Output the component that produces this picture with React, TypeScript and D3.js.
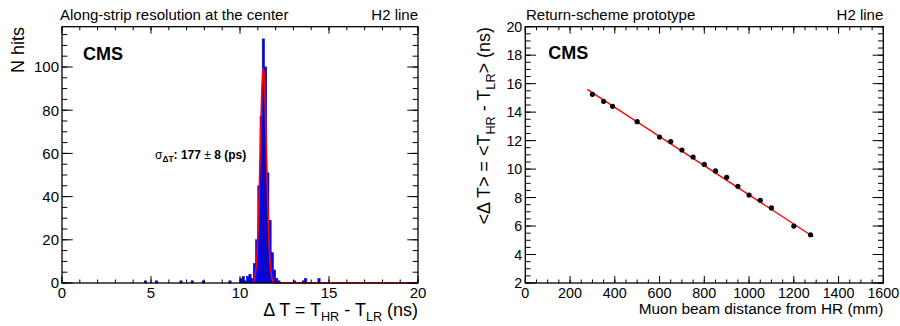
import * as d3 from "d3";
import { useEffect, useRef } from "react";

const FONT = "'Liberation Sans', Arial, Helvetica, sans-serif";

// Left panel: along-strip delta-T histogram (bin lower edges in ns, counts)
const binWidth = 0.125;
const histLow = [
  4.625, 5.25, 6.625, 7.25, 7.875, 9.375, 10.0, 10.125, 10.25, 10.375, 10.5,
  10.625, 10.75, 10.875, 11.0, 11.125, 11.25, 11.375, 11.5, 11.625, 11.75,
  11.875, 12.0, 12.125, 13.0, 13.5, 13.625, 14.375,
];
const histCounts = [
  1, 1, 1, 1, 1, 1, 2, 3, 1, 3, 4, 2, 9, 20, 45, 77, 113, 100, 51, 29, 14, 6,
  2, 1, 1, 1, 2, 2,
];
// gaussian fit parameters
const gausAmp = 99;
const gausMean = 11.31;
const gausSigma = 0.177;
const gausRange: [number, number] = [10.75, 20];

// Right panel: mean delta-T vs beam position
const distance = [
  300, 350, 390, 500, 600, 650, 700, 750, 800, 850, 900, 950, 1000, 1050, 1100,
  1200, 1275,
];
const meanDt = [
  15.25, 14.76, 14.41, 13.33, 12.25, 11.93, 11.34, 10.85, 10.33, 9.87, 9.42,
  8.79, 8.18, 7.81, 7.27, 6.0, 5.39,
];
// linear fit
const fitP0 = 18.44;
const fitP1 = -0.01025;
const fitRange: [number, number] = [277, 1287];

type G = d3.Selection<SVGGElement, unknown, null, undefined>;
type Lin = d3.ScaleLinear<number, number>;

// ROOT-like frame: ticks inside on all four sides
function frame(
  g: G,
  x: Lin,
  y: Lin,
  o: {
    xMajor: number[];
    xMinor: number[];
    yMajor: number[];
    yMinor: number[];
    labelSize: number;
  },
) {
  const [x0, x1] = x.range();
  const [y0, y1] = y.range();
  const line = (a: number, b: number, c: number, d: number) =>
    g
      .append("line")
      .attr("x1", a)
      .attr("y1", b)
      .attr("x2", c)
      .attr("y2", d)
      .attr("stroke", "#000")
      .attr("stroke-width", 1);

  for (const v of o.xMinor) {
    line(x(v), y0, x(v), y0 - 3.5);
    line(x(v), y1, x(v), y1 + 3.5);
  }
  for (const v of o.xMajor) {
    line(x(v), y0, x(v), y0 - 7);
    line(x(v), y1, x(v), y1 + 7);
  }
  for (const v of o.yMinor) {
    line(x0, y(v), x0 + 5.3, y(v));
    line(x1, y(v), x1 - 5.3, y(v));
  }
  for (const v of o.yMajor) {
    line(x0, y(v), x0 + 10.7, y(v));
    line(x1, y(v), x1 - 10.7, y(v));
  }
  g.append("rect")
    .attr("x", x0)
    .attr("y", y1)
    .attr("width", x1 - x0)
    .attr("height", y0 - y1)
    .attr("fill", "none")
    .attr("stroke", "#000")
    .attr("stroke-width", 1.3);

  g.append("g")
    .selectAll("text")
    .data(o.xMajor)
    .join("text")
    .attr("x", (d) => x(d))
    .attr("y", y0 + 15)
    .attr("text-anchor", "middle")
    .attr("font-size", o.labelSize)
    .text((d) => String(d));
  g.append("g")
    .selectAll("text")
    .data(o.yMajor)
    .join("text")
    .attr("x", x0 - 3)
    .attr("y", (d) => y(d))
    .attr("dy", "0.36em")
    .attr("text-anchor", "end")
    .attr("font-size", o.labelSize)
    .text((d) => String(d));
}

// text with subscripts: parts are [string, isSubscript]
function subText(
  t: d3.Selection<SVGTextElement, unknown, null, undefined>,
  parts: Array<[string, boolean]>,
  size: number,
) {
  const off = size * 0.28;
  let inSub = false;
  for (const [s, sub] of parts) {
    const dy = sub && !inSub ? off : !sub && inSub ? -off : 0;
    t.append("tspan")
      .attr("dy", dy)
      .attr("font-size", sub ? size * 0.7 : size)
      .text(s);
    inSub = sub;
  }
}

function drawHistogram(g: G) {
  const x = d3.scaleLinear().domain([0, 20]).range([62, 418]);
  const y = d3.scaleLinear().domain([0, 118.65]).range([283, 26.7]);

  g.append("g")
    .selectAll("rect")
    .data(histLow)
    .join("rect")
    .attr("x", (d) => x(d))
    .attr("y", (_, i) => y(histCounts[i]))
    .attr("width", (d) => x(d + binWidth) - x(d))
    .attr("height", (_, i) => y(0) - y(histCounts[i]))
    .attr("fill", "#0000ff")
    .attr("stroke", "#0000b4")
    .attr("stroke-width", 0.6);

  const xs = d3.range(gausRange[0], gausRange[1] + 0.001, 0.01);
  const gaus = (v: number) =>
    gausAmp * Math.exp(-0.5 * ((v - gausMean) / gausSigma) ** 2);
  g.append("path")
    .datum(xs)
    .attr(
      "d",
      d3
        .line<number>()
        .x((d) => x(d))
        .y((d) => y(gaus(d))),
    )
    .attr("fill", "none")
    .attr("stroke", "#ff0000")
    .attr("stroke-width", 1.6);

  frame(g, x, y, {
    xMajor: d3.range(0, 21, 5),
    xMinor: d3.range(0, 21, 1),
    yMajor: d3.range(0, 101, 20),
    yMinor: d3.range(0, 116, 5),
    labelSize: 15,
  });

  g.append("text")
    .attr("x", 60)
    .attr("y", 19.5)
    .attr("font-size", 15)
    .text("Along-strip resolution at the center");
  g.append("text")
    .attr("x", 418)
    .attr("y", 19.5)
    .attr("text-anchor", "end")
    .attr("font-size", 15)
    .text("H2 line");
  g.append("text")
    .attr("x", 83)
    .attr("y", 60)
    .attr("font-size", 18)
    .attr("font-weight", "bold")
    .text("CMS");

  const sig = g
    .append("text")
    .attr("x", 155)
    .attr("y", 158.5)
    .attr("font-size", 12)
    .attr("font-weight", "bold");
  sig.append("tspan").attr("font-weight", "normal").text("σ");
  sig.append("tspan").attr("dy", 3).attr("font-size", 8.4).text("ΔT");
  sig.append("tspan").attr("dy", -3).text(": 177 ");
  sig.append("tspan").attr("font-weight", "normal").text("±");
  sig.append("tspan").text(" 8 (ps)");

  g.append("text")
    .attr("transform", "translate(24,27) rotate(-90)")
    .attr("text-anchor", "end")
    .attr("font-size", 18)
    .text("N hits");

  const xt = g
    .append("text")
    .attr("x", 418)
    .attr("y", 316)
    .attr("text-anchor", "end")
    .attr("font-size", 18);
  subText(
    xt,
    [
      ["Δ T = T", false],
      ["HR", true],
      [" - T", false],
      ["LR", true],
      [" (ns)", false],
    ],
    18,
  );
}

function drawScan(g: G) {
  const x = d3.scaleLinear().domain([0, 1600]).range([525.3, 883.3]);
  const y = d3.scaleLinear().domain([2, 20]).range([283, 26.7]);

  frame(g, x, y, {
    xMajor: d3.range(0, 1601, 200),
    xMinor: d3.range(0, 1601, 50),
    yMajor: d3.range(2, 21, 2),
    yMinor: d3.range(2, 20.01, 0.5),
    labelSize: 14.3,
  });

  g.append("line")
    .attr("x1", x(fitRange[0]))
    .attr("y1", y(fitP0 + fitP1 * fitRange[0]))
    .attr("x2", x(fitRange[1]))
    .attr("y2", y(fitP0 + fitP1 * fitRange[1]))
    .attr("stroke", "#ff0000")
    .attr("stroke-width", 1.3);

  g.append("g")
    .selectAll("circle")
    .data(distance)
    .join("circle")
    .attr("cx", (d) => x(d))
    .attr("cy", (_, i) => y(meanDt[i]))
    .attr("r", 2.6)
    .attr("fill", "#000");

  g.append("text")
    .attr("x", 526)
    .attr("y", 19.5)
    .attr("font-size", 15)
    .text("Return-scheme prototype");
  g.append("text")
    .attr("x", 883.3)
    .attr("y", 19.5)
    .attr("text-anchor", "end")
    .attr("font-size", 15)
    .text("H2 line");
  g.append("text")
    .attr("x", 548.3)
    .attr("y", 59)
    .attr("font-size", 18)
    .attr("font-weight", "bold")
    .text("CMS");

  g.append("text")
    .attr("x", 883.3)
    .attr("y", 314)
    .attr("text-anchor", "end")
    .attr("font-size", 15.4)
    .text("Muon beam distance from HR (mm)");

  const yt = g
    .append("text")
    .attr("transform", "translate(490,27) rotate(-90)")
    .attr("text-anchor", "end")
    .attr("font-size", 18);
  subText(
    yt,
    [
      ["<Δ T> = <T", false],
      ["HR", true],
      [" - T", false],
      ["LR", true],
      ["> (ns)", false],
    ],
    18,
  );
}

export default function App() {
  const svgRef = useRef<SVGSVGElement>(null);

  useEffect(() => {
    if (!svgRef.current) return;
    document.body.style.margin = "0";
    const svg = d3.select(svgRef.current);
    svg.selectAll("*").remove();
    svg.attr("font-family", FONT).attr("fill", "#000");
    drawHistogram(svg.append("g"));
    drawScan(svg.append("g"));
  }, []);

  return (
    <svg
      ref={svgRef}
      width={900}
      height={326}
      style={{ display: "block", background: "#fff" }}
    />
  );
}
